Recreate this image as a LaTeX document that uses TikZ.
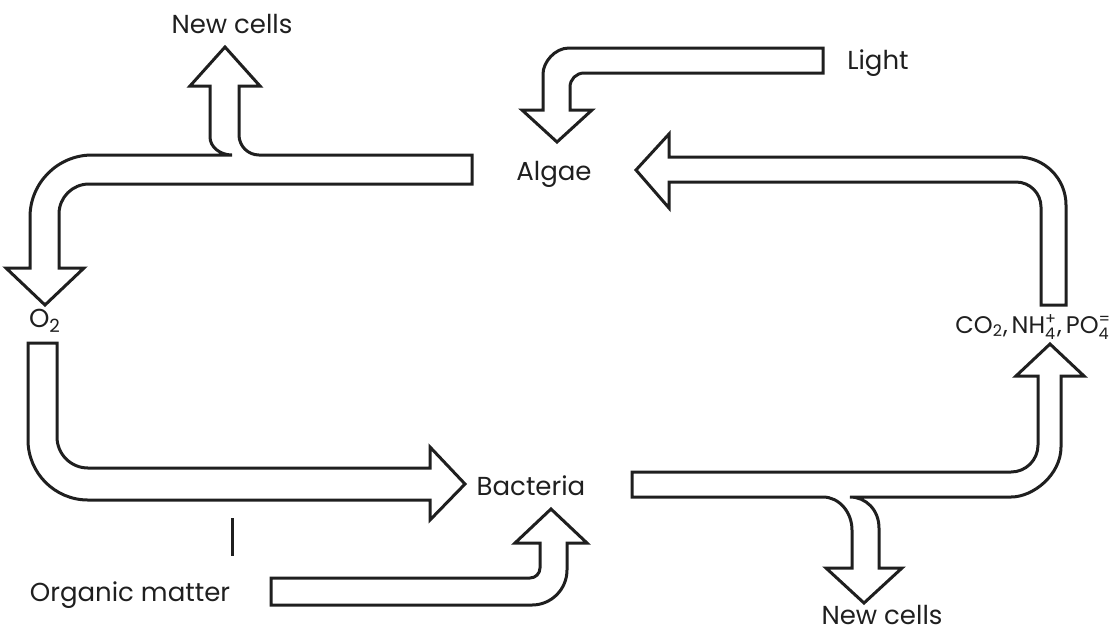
\documentclass[tikz,border=0pt]{standalone}
\usepackage{amsmath}
\usepackage{fontspec}
\setmainfont{Poppins}
\begin{document}
\begin{tikzpicture}[x=0.5pt,y=-0.5pt,
  blk/.style={draw=black!88, line width=1.5pt, line join=miter},
  lbl/.style={font=\fontsize{13}{15}\selectfont, text=black!88, inner sep=0pt}]
\useasboundingbox (0,0) rectangle (1114,634);

% labels
\node[lbl, anchor=base] (newcellsTop) at (232,33) {New cells};
\node[lbl, anchor=base] (light) at (878,69) {Light};
\node[lbl, anchor=base] (algae) at (554,180) {Algae};
\node[lbl, anchor=base] (otwo) at (45,327) {O$_{\text{2}}$};
\node[lbl, anchor=base] (bacteria) at (531,495) {Bacteria};
\node[lbl, anchor=base] (organic) at (130,601) {Organic matter};
\node[lbl, anchor=base] (newcellsBot) at (882,624) {New cells};
\node[lbl, font=\fontsize{12}{14}\selectfont, anchor=base west] (nutrients) at (955,333)
  {CO$_{\text{2}}$,\,NH$_{\text{4}}^{\text{+}}$,\,PO$_{\text{4}}^{\text{=}}$};

% Algae -> O2, with New cells branch
\draw[blk] (472,155) -- (259,155) .. controls (248,155) and (239,146) .. (239,135)
  -- (239,86) -- (260,86) -- (225,47) -- (190,86) -- (210,86) -- (210,137)
  .. controls (210,147) and (220,155) .. (232,155) -- (92,155)
  .. controls (57.8,155) and (30,182.8) .. (30,217) -- (30,268) -- (6,268) -- (45,305)
  -- (84,268) -- (59,268) -- (59,214) .. controls (59,197.4) and (72.4,184) .. (89,184)
  -- (472,184) -- cycle;

% Light -> Algae
\draw[blk] (823,48) -- (569,48) .. controls (554.6,48) and (543,62.4) .. (543,74)
  -- (543,110) -- (522,110) -- (557,142) -- (592,110) -- (570,110) -- (570,87)
  .. controls (570,79.3) and (576.3,73) .. (584,73) -- (823,73) -- cycle;

% CO2... -> Algae
\draw[blk] (1041,305) -- (1041,207) .. controls (1041,193.2) and (1029.8,182) .. (1016,182)
  -- (669,182) -- (669,208) -- (636,170) -- (669,134) -- (669,157) -- (1018,157)
  .. controls (1044.5,157) and (1066,178.5) .. (1066,205) -- (1066,305) -- cycle;

% Organic matter -> Bacteria
\draw[blk] (271,578) -- (530,578) .. controls (535.5,578) and (540,573.5) .. (540,568)
  -- (540,543) -- (515,543) -- (551,509) -- (587,543) -- (567,543) -- (567,570)
  .. controls (567,589.3) and (551.3,605) .. (532,605) -- (271,605) -- cycle;

% O2 -> Bacteria
\draw[blk] (28,343) -- (28,440) .. controls (28,473.1) and (54.9,500) .. (88,500)
  -- (430,500) -- (430,520) -- (465,484) -- (430,447) -- (430,468) -- (88,468)
  .. controls (70.9,468) and (57,454.1) .. (57,437) -- (57,343) -- cycle;

% Bacteria -> CO2..., with New cells branch
\draw[blk] (632,472) -- (1011,472) .. controls (1025.9,472) and (1038,459.9) .. (1038,445)
  -- (1038,376) -- (1016,376) -- (1050,344) -- (1084,376) -- (1061,376) -- (1061,447)
  .. controls (1061,474.6) and (1033.4,497) .. (1011,497) -- (850,497)
  .. controls (866,497) and (879,510) .. (879,528) -- (879,568) -- (902,568) -- (864,603)
  -- (826,568) -- (852,568) -- (852,530) .. controls (852,512) and (839,497) .. (823,497)
  -- (632,497) -- cycle;

% small tick
\coordinate (tickTop) at (232,518);
\coordinate (tickBot) at (232,556);
\draw[blk] (tickTop) -- (tickBot);
\end{tikzpicture}
\end{document}
